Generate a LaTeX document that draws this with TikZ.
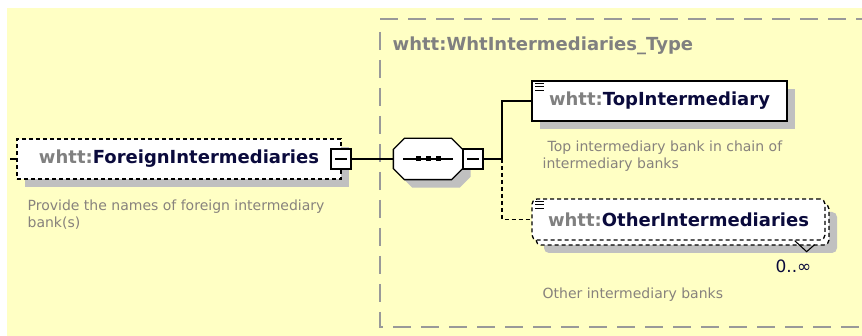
\documentclass[tikz,border=0pt]{standalone}
\usepackage{fontspec}
\setmainfont{DejaVu Sans}
\usetikzlibrary{calc,shadows}

\definecolor{bgyellow}{RGB}{255,255,196}
\definecolor{framegray}{RGB}{153,153,153}
\definecolor{shadowgray}{RGB}{192,192,192}
\definecolor{nsgray}{RGB}{128,128,128}
\definecolor{namenavy}{RGB}{10,10,60}
\definecolor{descgray}{RGB}{135,130,125}

\newcommand\whtt[1]{\textcolor{nsgray}{whtt:}\textcolor{namenavy}{#1}}
\newcommand\docicon[1]{%
  \foreach \dy in {3,6.5,10}
    \draw[line width=0.9pt] ($(#1.north west)+(4,\dy)$) -- +(9,0);}

\begin{document}
\begin{tikzpicture}[x=1pt,y=-1pt,line width=1.3pt,
  elem/.style={draw, fill=white, minimum height=40pt, inner sep=0pt,
    font=\fontsize{18}{20}\selectfont\bfseries},
  optional/.style={dash pattern=on 4pt off 3pt},
  shade/.style={drop shadow={shadow xshift=8pt,shadow yshift=-8pt,
    fill=shadowgray,opacity=1}},
  minusbox/.style={draw, fill=white, minimum size=20pt, inner sep=0pt,
    path picture={\draw ([xshift=4pt]path picture bounding box.west) --
      ([xshift=-4pt]path picture bounding box.east);}},
  note/.style={anchor=base west, align=left, text=descgray, inner sep=0pt,
    font=\fontsize{14}{17}\selectfont},
]
\useasboundingbox (0,0) rectangle (862,336);
\fill[bgyellow] (7,8) rectangle (862,336);

\coordinate (framenw) at (380,19);
\coordinate (framesw) at (380,327);
\coordinate (stub) at (10,159);
\coordinate (branch) at (502,159);

% Draw the type frame
\draw[framegray, line width=2pt, dash pattern=on 18pt off 10pt]
  (framenw) -- (870,19);
\draw[framegray, line width=2pt, dash pattern=on 18pt off 10pt]
  ($(framenw)+(0,13)$) -- (framesw) -- (870,327);
\node[anchor=base west, inner sep=0pt, text=nsgray,
  font=\fontsize{18}{20}\selectfont\bfseries] (typename) at (392,51)
  {whtt:WhtIntermediaries\_Type};

% Draw the element boxes
\node[elem, optional, shade, minimum width=324pt] (foreign) at (179,159)
  {\whtt{ForeignIntermediaries}};
\node[minimum width=68pt, minimum height=40pt, inner sep=0pt] (seq)
  at (428,159) {};
\filldraw[fill=white, shade]
  ($(seq.north west)+(11,0)$) -- ($(seq.north east)+(-11,0)$) --
  ($(seq.north east)+(0,11)$) -- ($(seq.south east)+(0,-11)$) --
  ($(seq.south east)+(-11,0)$) -- ($(seq.south west)+(11,0)$) --
  ($(seq.south west)+(0,-11)$) -- ($(seq.north west)+(0,11)$) -- cycle;
\node[minusbox] (fminus) at (341,159) {};
\node[minusbox] (sminus) at (473,159) {};
\node[elem, shade, minimum width=255pt] (top) at (659.5,101)
  {\whtt{TopIntermediary}};
\node[elem, optional, shade, rounded corners=5pt, minimum width=293pt,
  minimum height=41pt] (otherback) at (682.5,224.5) {};
\node[elem, optional, rounded corners=5pt, minimum width=293pt,
  minimum height=41pt] (other) at (678.5,219.5)
  {\whtt{OtherIntermediaries}};

% Sequence symbol
\draw ($(seq.center)+(-25,0)$) -- ($(seq.center)+(25,0)$);
\foreach \dx in {-10,0,10}
  \fill ($(seq.center)+(\dx-2.5,-2.5)$) rectangle +(5,5);

% Icons and multiplicity
\docicon{top}
\docicon{other}
\draw[line width=1.1pt] ($(otherback.south east)+(-35,-5)$) --
  ($(otherback.south east)+(-23,6)$) -- ($(otherback.south east)+(-15,-1)$);
\node[anchor=base east, inner sep=0pt, text=namenavy,
  font=\fontsize{17}{20}\selectfont] (mult) at (812,273) {0..∞};

% Draw the connectors
\draw (stub) -- (foreign.west);
\draw (fminus.east) -- (seq.west);
\draw (sminus.east) -- (branch);
\draw (branch) |- (top.west);
\draw[optional] (branch) |- (other.west);

% Annotations (base is the last line)
\node[note] (fdesc) at (27,228)
  {Provide the names of foreign intermediary\\bank(s)};
\node[note] (tdesc) at (542,169)
  {\hspace{5pt}Top intermediary bank in chain of\\intermediary banks};
\node[note] (odesc) at (542,299) {Other intermediary banks};

\end{tikzpicture}
\end{document}
